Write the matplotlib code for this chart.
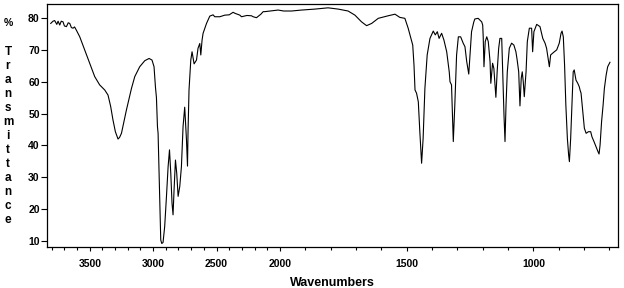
import matplotlib
matplotlib.use('Agg')
import matplotlib.pyplot as plt
import numpy as np
from matplotlib.ticker import FixedLocator, NullFormatter

plt.rcParams['font.family'] = ['Liberation Sans', 'DejaVu Sans']

# spectrum (wavenumber cm-1, %T)
wavenumber = [
    3808, 3790, 3777, 3760, 3750, 3737, 3725, 3711, 3700, 3684, 3670, 3658, 3645, 3632,
    3620, 3606, 3579, 3540, 3500, 3461, 3422, 3382, 3356, 3335, 3317, 3298, 3277, 3265,
    3250, 3230, 3211, 3171, 3145, 3106, 3066, 3032, 3009, 2993, 2982, 2974, 2966, 2961,
    2948, 2940, 2932, 2922, 2909, 2895, 2882, 2871, 2861, 2851, 2843, 2835, 2824, 2814,
    2803, 2790, 2777, 2764, 2751, 2737, 2729, 2725, 2717, 2703, 2693, 2677, 2658, 2646,
    2632, 2624, 2614, 2606, 2579, 2553, 2527, 2514, 2474, 2435, 2400, 2369, 2356, 2316,
    2303, 2260, 2224, 2211, 2185, 2150, 2132, 2119, 2060, 2014, 1985, 1954, 1915, 1862,
    1810, 1790, 1770, 1731, 1704, 1678, 1658, 1638, 1612, 1573, 1546, 1527, 1507, 1494,
    1480, 1476, 1471, 1467, 1461, 1454, 1448, 1441, 1435, 1428, 1419, 1408, 1395, 1387,
    1379, 1372, 1362, 1353, 1342, 1332, 1329, 1323, 1316, 1310, 1303, 1296, 1287, 1277,
    1270, 1263, 1255, 1250, 1244, 1235, 1231, 1218, 1204, 1200, 1198, 1195, 1190, 1184,
    1178, 1171, 1168, 1161, 1156, 1148, 1143, 1137, 1132, 1125, 1121, 1116, 1112, 1108,
    1103, 1095, 1086, 1077, 1069, 1064, 1058, 1053, 1048, 1044, 1040, 1036, 1029, 1024,
    1016, 1007, 1003, 998, 987, 974, 963, 954, 948, 941, 937, 932, 922, 908,
    898, 891, 887, 882, 877, 872, 866, 861, 858, 853, 848, 843, 839, 832,
    825, 819, 816, 812, 805, 799, 792, 783, 774, 769, 761, 753, 745, 741,
    737, 731, 725, 720, 713, 707, 698,
]
transmittance = [
    78.3, 79.0, 79.2, 78.0, 79.0, 77.8, 79.0, 78.8, 77.5, 77.3, 78.5, 78.3, 77.0, 76.8,
    77.2, 76.2, 74.1, 70.0, 65.8, 61.6, 59.0, 57.4, 55.8, 52.2, 48.0, 44.3, 42.0, 42.5,
    43.8, 47.5, 51.1, 57.9, 61.6, 64.7, 66.6, 67.3, 66.8, 64.7, 58.4, 55.0, 45.9, 43.8,
    22.9, 10.3, 9.2, 9.5, 14.5, 23.9, 33.3, 38.6, 31.3, 21.8, 18.2, 26.0, 35.4, 31.3,
    24.0, 27.1, 33.3, 45.9, 52.0, 41.7, 33.5, 43.8, 57.4, 66.8, 69.4, 65.6, 66.8, 70.5,
    72.0, 68.4, 73.1, 75.2, 78.3, 80.6, 81.0, 80.4, 80.4, 80.9, 81.0, 81.8, 81.5, 80.9,
    80.4, 80.8, 80.7, 80.4, 80.1, 81.2, 82.0, 82.0, 82.3, 82.5, 82.2, 82.2, 82.5, 82.8,
    83.2, 83.0, 82.8, 82.2, 80.9, 78.8, 77.6, 78.3, 79.9, 80.7, 81.2, 80.2, 79.9, 76.8,
    72.6, 71.5, 65.2, 57.4, 56.4, 53.7, 44.3, 34.4, 42.2, 57.9, 68.4, 73.6, 75.9, 74.7,
    75.7, 73.6, 75.2, 73.1, 69.4, 63.1, 60.0, 59.0, 41.2, 52.7, 68.4, 74.1, 74.1, 72.1,
    71.0, 66.3, 62.4, 68.4, 75.7, 78.8, 79.7, 79.9, 78.8, 77.8, 74.1, 64.7, 72.6, 74.1,
    72.6, 66.3, 59.5, 65.8, 64.2, 55.1, 63.1, 70.5, 73.6, 73.6, 63.1, 49.5, 41.2, 52.7,
    63.1, 70.5, 72.1, 71.5, 69.4, 66.8, 63.1, 52.4, 61.1, 63.1, 60.0, 55.3, 63.1, 72.6,
    76.8, 76.8, 69.4, 75.7, 78.0, 77.3, 73.6, 72.1, 70.5, 66.8, 64.7, 68.4, 69.1, 70.0,
    72.1, 75.2, 75.9, 74.1, 65.2, 52.7, 42.2, 37.0, 34.9, 42.2, 52.7, 63.1, 63.7, 60.5,
    59.5, 58.4, 57.4, 56.4, 50.6, 45.4, 43.8, 44.3, 44.3, 42.7, 41.2, 39.6, 38.0, 37.3,
    40.1, 47.5, 52.7, 57.9, 62.1, 64.7, 66.1,
]

x_major = [3500, 3000, 2500, 2000, 1500, 1000]
x_minor = [w for w in range(3800, 600, -100) if w % 500 != 0]
y_ticks = [10, 20, 30, 40, 50, 60, 70, 80]


# wavenumber axis is compressed 2:1 above 2000 cm-1
def fwd(w):
    w = np.asarray(w, dtype=float)
    return np.where(w > 2000, 2000 + (w - 2000) / 2, w)


def inv(c):
    c = np.asarray(c, dtype=float)
    return np.where(c > 2000, 2000 + 2 * (c - 2000), c)


fig = plt.figure(figsize=(6.24, 2.88), dpi=100)
ax = fig.add_axes([0.0748, 0.1424, 0.9161, 0.8437])

ax.plot(wavenumber, transmittance, color='black', lw=0.8)

ax.set_xscale('function', functions=(fwd, inv))
ax.set_xlim(3840, 665)
ax.set_ylim(8.1, 84.4)

tick_font = {'fontsize': 7.5, 'fontweight': 'bold'}
ax.xaxis.set_major_locator(FixedLocator(x_major))
ax.xaxis.set_minor_locator(FixedLocator(x_minor))
ax.xaxis.set_minor_formatter(NullFormatter())
ax.set_xticklabels([str(v) for v in x_major], **tick_font)
ax.set_yticks(y_ticks)
ax.set_yticklabels([str(v) for v in y_ticks], **tick_font)

ax.tick_params(axis='x', which='major', length=3, width=0.8, pad=6)
ax.tick_params(axis='x', which='minor', length=2, width=0.8)
ax.tick_params(axis='y', which='major', length=4, width=0.8, pad=1)
for s in ax.spines.values():
    s.set_linewidth(0.9)

ax.set_xlabel('Wavenumbers', fontsize=9, fontweight='bold')
ax.xaxis.set_label_coords(0.5, -0.148)
ax.xaxis.label.set_verticalalignment('center')

# vertical stacked y label
fig.text(8 / 624, 1 - 23 / 288, '%', fontsize=7.5, fontweight='bold', ha='center', va='center')
for i, ch in enumerate('Transmittance'):
    fig.text(8 / 624, 1 - (52 + i * 14) / 288, ch, fontsize=8.5, fontweight='bold',
             ha='center', va='center')

fig.savefig('out.png', dpi=100)
